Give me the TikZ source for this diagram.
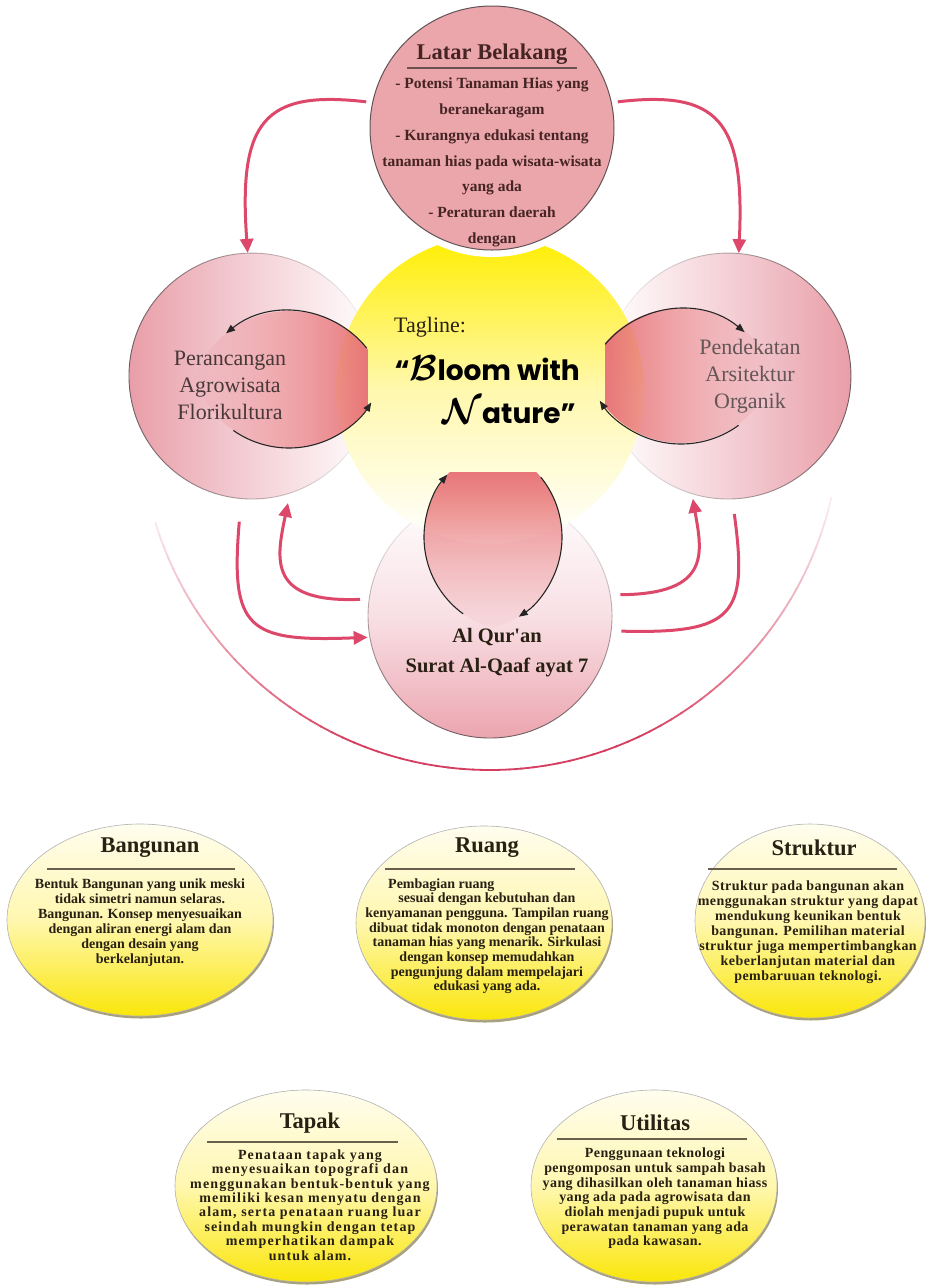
\documentclass[tikz,border=0pt]{standalone}
\usepackage{fontspec}
\usepackage{bm}
\usepackage{graphicx}
\setmainfont{Liberation Serif}
\newfontfamily\tagfont{Poppins}
\newfontfamily\spcfontA{Liberation Serif}[LetterSpace=8]
\newfontfamily\spcfontB{Liberation Serif}[LetterSpace=3]
\usetikzlibrary{shapes.geometric,arrows.meta,fadings}
\definecolor{pkTop}{RGB}{234,166,170}
\definecolor{pkSide}{RGB}{233,158,168}
\definecolor{pkMid}{RGB}{244,208,214}
\definecolor{pkMidB}{RGB}{248,224,229}
\definecolor{pkBot}{RGB}{236,165,175}
\definecolor{lensC}{RGB}{232,118,122}
\definecolor{arrC}{RGB}{221,72,106}
\definecolor{arcC}{RGB}{214,62,96}
\definecolor{ylA}{RGB}{255,238,0}
\definecolor{ylB}{RGB}{255,248,175}
\definecolor{elTop}{RGB}{255,253,238}
\definecolor{elMid}{RGB}{255,247,175}
\definecolor{elBot}{RGB}{250,230,10}
\definecolor{txtD}{RGB}{40,32,18}
\definecolor{txtM}{RGB}{70,36,36}
\definecolor{txtC}{RGB}{72,56,56}
\definecolor{outl}{RGB}{110,92,96}
\definecolor{shd}{RGB}{110,95,40}
\definecolor{ulc}{RGB}{105,95,75}
\tikzfading[name=fadeR, left color=transparent!0, right color=transparent!100]
\tikzfading[name=fadeL, left color=transparent!100, right color=transparent!0]
\tikzfading[name=fadeD, top color=transparent!0, bottom color=transparent!100]
\tikzfading[name=fadeU, top color=transparent!100, bottom color=transparent!0]
\begin{document}
\begin{tikzpicture}[x=1pt,y=-1pt,
  parr/.style={draw=arrC, line width=3pt, -{Triangle[length=14pt,width=13pt]}},
  pline/.style={draw=arrC, line width=3pt},
  barr/.style={draw=black!85, line width=1.1pt, -{Triangle[length=9pt,width=7pt]}},
  ttl/.style={inner sep=0pt, text=txtD, font=\fontsize{22.5}{26}\selectfont\bfseries},
  body/.style={inner sep=0pt, text=txtD, align=center, font=\fontsize{14}{15}\selectfont\bfseries},
  bodyA/.style={inner sep=0pt, text=txtD, align=center, font=\spcfontA\fontsize{14}{14.4}\selectfont\bfseries},
  bodyB/.style={inner sep=0pt, text=txtD, align=center, font=\spcfontB\fontsize{14}{14.7}\selectfont\bfseries},
  side/.style={inner sep=0pt, text=txtC, align=center, font=\fontsize{22}{27}\selectfont},
  elp/.style={ellipse, inner sep=0pt, top color=elTop, bottom color=elBot, middle color=elMid, draw=black!30, line width=0.6pt},
  ul/.style={draw=ulc, line width=1.2pt},
  tagf/.style={inner sep=0pt, anchor=east, align=right, text=black, font=\tagfont\fontsize{28}{43}\selectfont\bfseries}
]
\fill[white] (0,0) rectangle (926,1286);
\path[use as bounding box] (0,0) rectangle (926,1286);

% big U arc behind
\foreach \a in {163,161,...,15}{
  \pgfmathsetmacro\ii{max(0,min(100,100-(abs(\a-90)-25)*1.8))}
  \draw[arcC!\ii!white, line width=1.8pt] (490,420) ++(\a:350) arc[start angle=\a, end angle=\a-2.3, radius=350];
}

% side and bottom circles
\node[circle, minimum size=246pt, inner sep=0pt, left color=pkSide, right color=white, middle color=pkMid] (left) at (252,376) {};
\draw[outl, line width=0.9pt, path fading=fadeR] (252,376) circle[radius=123];
\node[circle, minimum size=246pt, inner sep=0pt, left color=white, right color=pkSide, middle color=pkMid] (right) at (728,376) {};
\draw[outl, line width=0.9pt, path fading=fadeL] (728,376) circle[radius=123];
\node[circle, minimum size=244pt, inner sep=0pt, top color=white, bottom color=pkBot, middle color=pkMidB] (bot) at (490,616) {};
\draw[outl, line width=0.9pt, path fading=fadeU] (490,616) circle[radius=122];

% yellow centre
\begin{scope}
  \clip (490,390) circle[radius=154];
  \shade[top color=ylA, bottom color=white, middle color=ylB] (330,236) rectangle (650,545);
\end{scope}

% top circle
\fill[white] (492,128) circle[radius=129];
\node[circle, minimum size=244pt, inner sep=0pt, fill=pkTop, draw=outl!90!black, line width=1pt] (top) at (492,128) {};

% lenses
\begin{scope}
  \clip (289,411) circle[radius=100];
  \clip (289,351) circle[radius=97];
  \fill[lensC, path fading=fadeL] (195,300) rectangle (368,460);
\end{scope}
\begin{scope}
  \clip (681,408) circle[radius=100];
  \clip (681,346) circle[radius=97];
  \fill[lensC, path fading=fadeR] (605,300) rectangle (770,460);
\end{scope}
\begin{scope}
  \clip (519,537) circle[radius=95];
  \clip (467,537) circle[radius=95];
  \fill[lensC, path fading=fadeD] (420,472) rectangle (570,632);
\end{scope}

% black cycle arrows
\coordinate (lA) at (289,411);
\coordinate (lB) at (289,351);
\coordinate (rA) at (681,408);
\coordinate (rB) at (681,346);
\coordinate (bL) at (519,537);
\coordinate (bR) at (467,537);
\draw[barr] (lA) ++(-39:100) arc[start angle=-39, end angle=-129, radius=100];
\draw[barr] (lB) ++(125:97) arc[start angle=125, end angle=32, radius=97];
\draw[barr] (rA) ++(-140:99) arc[start angle=-140, end angle=-50, radius=99];
\draw[barr] (rB) ++(54:98) arc[start angle=54, end angle=146, radius=98];
\draw[barr] (bL) ++(126:95) arc[start angle=126, end angle=221, radius=95];
\draw[barr] (bR) ++(-39:95) arc[start angle=-39, end angle=57, radius=95];

% pink arrows
\draw[parr, shorten <=6pt] (top.168) .. controls (265,90) and (238,120) .. (left.92);
\draw[parr, shorten <=6pt] (top.12) .. controls (718,90) and (745,120) .. (right.85);
\draw[parr, shorten <=23pt, shorten >=2pt] (left.-95) .. controls (230,630) and (248,642) .. (bot.190);
\draw[parr, shorten <=9pt, shorten >=10pt] (bot.172) .. controls (268,603) and (276,560) .. (left.-72);
\draw[parr, shorten <=10pt, shorten >=5pt] (bot.10) .. controls (712,594) and (702,552) .. (right.253);
\draw[pline, shorten <=15pt, shorten >=10pt] (right.-88) .. controls (748,615) and (735,634) .. (bot.-7);

% texts in the top part
\node[ttl, text=txtM] (ttop) at (492,54) {Latar Belakang};
\draw[draw=txtM!80, line width=1.1pt] (407,68) -- (577,68);
\node[inner sep=0pt, text=txtM, align=center, font=\fontsize{15.5}{25.8}\selectfont\bfseries] (btop) at (492,162.5) {- Potensi Tanaman Hias yang\\beranekaragam\\- Kurangnya edukasi tentang\\tanaman hias pada wisata-wisata\\yang ada\\- Peraturan daerah\\dengan};
\node[side] (tleft) at (230,385) {Perancangan\\Agrowisata\\Florikultura};
\node[side, text=txtC!85] (tright) at (750,376.5) {Pendekatan\\Arsitektur\\Organik};
\node[inner sep=0pt, anchor=west, text=txtD, font=\fontsize{22}{26}\selectfont] (tag) at (394,327) {Tagline:};
\node[tagf] (tagline) at (580,390) {“\scalebox{1.45}{$\bm{\mathcal{B}}$}loom with\\\scalebox{1.45}{$\bm{\mathcal{N}}$}ature”\hspace*{4pt}};
\node[inner sep=0pt, align=center, text=txtD, font=\fontsize{20.5}{30}\selectfont\bfseries\addfontfeatures{Ligatures=TeXOff}] (tbot) at (497,653) {Al Qur'an\\Surat Al-Qaaf ayat 7};

% bottom ellipses
\fill[shd, opacity=0.6] (141,922.5) ellipse[x radius=133, y radius=96];
\node[elp, minimum width=266pt, minimum height=192pt] (bang) at (140,920) {};
\node[ttl] (tbang) at (150,848) {Bangunan};
\draw[ul] (47,869) -- (235,869);
\node[body] (bbang) at (140,922.5) {Bentuk Bangunan yang unik meski\\tidak simetri namun selaras.\\Bangunan. Konsep menyesuaikan\\dengan aliran energi alam dan\\dengan desain yang\\berkelanjutan.};

\fill[shd, opacity=0.6] (485,925.5) ellipse[x radius=128, y radius=97];
\node[elp, minimum width=256pt, minimum height=194pt] (ruang) at (484,923) {};
\node[ttl] (truang) at (487,848) {Ruang};
\draw[ul] (385,869) -- (575,869);
\node[body, anchor=west] (bruang0) at (388,885) {Pembagian ruang};
\node[body, font=\fontsize{14}{14.7}\selectfont\bfseries] (bruang) at (487,943.5) {sesuai dengan kebutuhan dan\\kenyamanan pengguna. Tampilan ruang\\dibuat tidak monoton dengan penataan\\tanaman hias yang menarik. Sirkulasi\\dengan konsep memudahkan\\pengunjung dalam mempelajari\\edukasi yang ada.};

\fill[shd, opacity=0.6] (811,923.5) ellipse[x radius=115, y radius=97];
\node[elp, minimum width=230pt, minimum height=194pt] (strk) at (810,921) {};
\node[ttl] (tstrk) at (814,848) {Struktur};
\draw[ul] (708,869) -- (897,869);
\node[bodyB, font=\spcfontB\fontsize{14}{15}\selectfont\bfseries] (bstrk) at (808,932) {Struktur pada bangunan akan\\menggunakan struktur yang dapat\\mendukung keunikan bentuk\\bangunan. Pemilihan material\\struktur juga mempertimbangkan\\keberlanjutan material dan\\pembaruuan teknologi.};

\fill[shd, opacity=0.6] (307,1188.5) ellipse[x radius=131, y radius=96];
\node[elp, minimum width=262pt, minimum height=192pt] (tapak) at (306,1186) {};
\node[ttl] (ttapak) at (310,1123) {Tapak};
\draw[ul] (207,1142) -- (398,1142);
\node[bodyA] (btapak) at (310,1205) {Penataan tapak yang\\menyesuaikan topografi dan\\menggunakan bentuk-bentuk yang\\memiliki kesan menyatu dengan\\alam, serta penataan ruang luar\\seindah mungkin dengan tetap\\memperhatikan dampak\\untuk alam.};

\fill[shd, opacity=0.6] (655,1188.5) ellipse[x radius=123, y radius=96];
\node[elp, minimum width=246pt, minimum height=192pt] (util) at (654,1186) {};
\node[ttl] (tutil) at (655,1123) {Utilitas};
\draw[ul] (557,1139) -- (747,1139);
\node[bodyB] (butil) at (655,1198.5) {Penggunaan teknologi\\pengomposan untuk sampah basah\\yang dihasilkan oleh tanaman hiass\\yang ada pada agrowisata dan\\diolah menjadi pupuk untuk\\perawatan tanaman yang ada\\pada kawasan.};
\end{tikzpicture}
\end{document}
